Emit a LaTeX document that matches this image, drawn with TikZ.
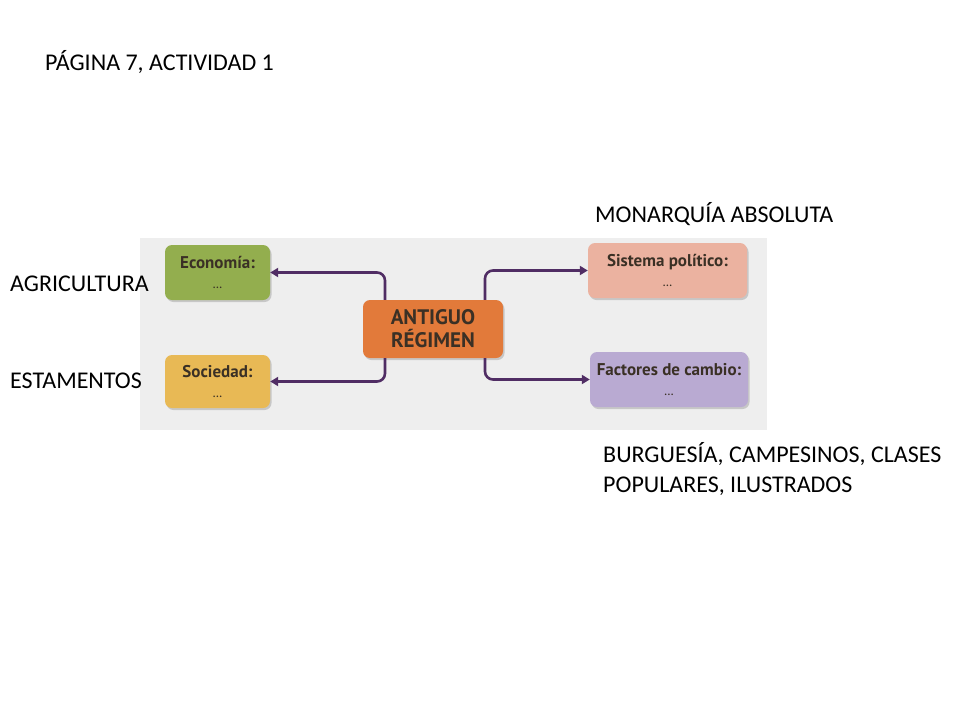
\documentclass[tikz,border=0pt]{standalone}
\usepackage{fontspec}
\setmainfont{Carlito}
\newfontfamily\boxfont{PT Sans}
\usetikzlibrary{shadows,arrows.meta}
\definecolor{scanbg}{HTML}{EEEEEE}
\definecolor{ecogreen}{HTML}{93AE4E}
\definecolor{socyellow}{HTML}{E8B955}
\definecolor{antorange}{HTML}{E27A3A}
\definecolor{sissalmon}{HTML}{EBB2A0}
\definecolor{faclav}{HTML}{B9AAD2}
\definecolor{connc}{HTML}{502D64}
\definecolor{boxtext}{HTML}{3A3025}
\begin{document}
\begin{tikzpicture}[x=1pt,y=-1pt,
 lbl/.style={anchor=base west, font=\fontsize{24}{32}\selectfont, inner sep=0, text=black},
 cbox/.style={draw=none, rounded corners=7pt,
   drop shadow={shadow xshift=1.5pt, shadow yshift=-2pt, opacity=0.35},
   font=\boxfont\bfseries\fontsize{17}{19}\selectfont, text=boxtext, align=center, inner sep=0},
 bigbox/.style={cbox, font=\boxfont\bfseries\fontsize{21}{23}\selectfont},
 dots/.style={},
 conn/.style={draw=connc, line width=2.6pt, rounded corners=8pt, -{Triangle[length=8pt,width=9pt]}}
]
\useasboundingbox (0,0) rectangle (960,720);
\fill[white] (0,0) rectangle (960,720);
\fill[scanbg] (140,238) rectangle (767,430);

\node[cbox, fill=ecogreen, minimum width=105pt, minimum height=55pt] (eco) at (217.5,272.5) {Economía:\\[1pt]{\normalfont\fontsize{13}{13}\selectfont ...}};
\node[cbox, fill=socyellow, minimum width=105pt, minimum height=53pt] (soc) at (217.5,381.5) {Sociedad:\\[1pt]{\normalfont\fontsize{13}{13}\selectfont ...}};
\node[bigbox, fill=antorange, minimum width=140pt, minimum height=58pt] (ant) at (433,329) {ANTIGUO\\RÉGIMEN};
\node[cbox, fill=sissalmon, minimum width=159pt, minimum height=55pt] (sis) at (667.5,270.5) {Sistema político:\\[1pt]{\normalfont\fontsize{13}{13}\selectfont ...}};
\node[cbox, fill=faclav, minimum width=158pt, minimum height=55pt] (fac) at (669,379.5) {Factores de cambio:\\[1pt]{\normalfont\fontsize{13}{13}\selectfont ...}};

\draw[conn] ([xshift=-48pt]ant.north) |- (eco.east);
\draw[conn] ([xshift=-48pt]ant.south) |- (soc.east);
\draw[conn] ([xshift=52pt]ant.north) |- (sis.west);
\draw[conn] ([xshift=52pt]ant.south) |- (fac.west);

\node[lbl] (t1) at (45,70) {PÁGINA 7, ACTIVIDAD 1};
\node[lbl] (t2) at (595,222) {MONARQUÍA ABSOLUTA};
\node[lbl] (t3) at (10,291) {AGRICULTURA};
\node[lbl] (t4) at (10,388) {ESTAMENTOS};
\node[lbl] (t5) at (603,462) {BURGUESÍA, CAMPESINOS, CLASES};
\node[lbl] (t6) at (603,492) {POPULARES, ILUSTRADOS};
\end{tikzpicture}
\end{document}
